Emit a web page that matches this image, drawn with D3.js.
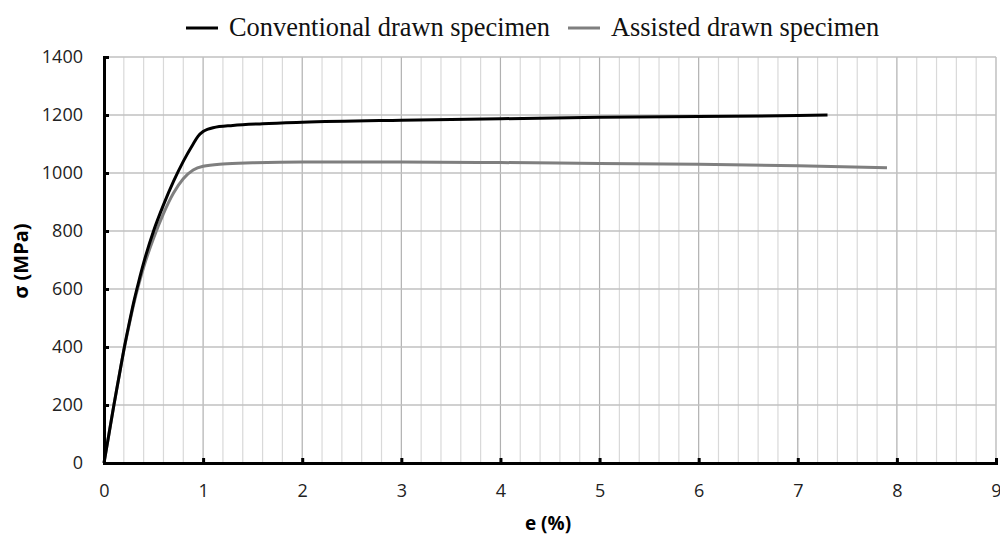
<!DOCTYPE html>
<html>
<head>
<meta charset="utf-8">
<script src="https://cdn.jsdelivr.net/npm/d3@7"></script>
<style>
body{margin:0;background:#fff;}
svg{display:block;}
</style>
</head>
<body>
<svg width="1000" height="537"></svg>
<script>
(()=>{
	//data
	let convStrain = [0, 0.05, 0.1, 0.15, 0.2, 0.25, 0.3, 0.35, 0.4, 0.5, 0.6, 0.7, 0.8, 0.9, 0.95, 1.0, 1.05, 1.1, 1.3, 1.6, 2, 3, 4, 5, 6, 7, 7.3];
	let convStress = [0, 100, 200, 295, 390, 475, 555, 625, 690, 800, 890, 970, 1040, 1100, 1127, 1143, 1151, 1156, 1164, 1170, 1175, 1182, 1187, 1192, 1195, 1198, 1200];
	let assistStrain = [0, 0.05, 0.1, 0.15, 0.2, 0.25, 0.3, 0.35, 0.4, 0.5, 0.6, 0.7, 0.8, 0.9, 1.0, 1.2, 1.5, 2, 3, 4, 5, 6, 7, 7.9];
	let assistStress = [0, 100, 200, 295, 388, 470, 548, 615, 675, 775, 860, 930, 980, 1010, 1023, 1031, 1035, 1038, 1038, 1036, 1033, 1030, 1025, 1018];
	let seriesNames = ["Conventional drawn specimen", "Assisted drawn specimen"];
	let xTicks = [0, 1, 2, 3, 4, 5, 6, 7, 8, 9];
	let yTicks = [0, 200, 400, 600, 800, 1000, 1200, 1400];

	let svg = d3.select("svg");
	let left = 104, right = 996, top = 57, bottom = 463;

	let x = d3.scaleLinear().domain([0, 9]).range([left, right]);
	let y = d3.scaleLinear().domain([0, 1400]).range([bottom, top]);

	//minor vertical grid every 0.2
	let minor = d3.range(0, 9.001, 0.2).filter(v => Math.abs(v - Math.round(v)) > 0.01);
	svg.append("g").selectAll("line").data(minor).enter()
		.append("line")
		.attr("x1", d => x(d)).attr("x2", d => x(d))
		.attr("y1", top).attr("y2", bottom)
		.style("stroke", "#d9d9d9").style("stroke-width", 1.2);

	//major grid
	svg.append("g").selectAll("line").data(xTicks.slice(1)).enter()
		.append("line")
		.attr("x1", d => x(d)).attr("x2", d => x(d))
		.attr("y1", top).attr("y2", bottom)
		.style("stroke", "#b0b0b0").style("stroke-width", 1.2);
	svg.append("g").selectAll("line").data(yTicks.slice(1)).enter()
		.append("line")
		.attr("x1", left).attr("x2", right)
		.attr("y1", d => y(d)).attr("y2", d => y(d))
		.style("stroke", "#c0c0c0").style("stroke-width", 1.5);

	//series
	let line = d3.line()
		.x(d => x(d[0]))
		.y(d => y(d[1]))
		.curve(d3.curveMonotoneX);

	let assistData = assistStrain.map((e, i) => [e, assistStress[i]]);
	let convData = convStrain.map((e, i) => [e, convStress[i]]);

	svg.append("path").datum(assistData)
		.attr("d", line)
		.style("fill", "none").style("stroke", "#7f7f7f").style("stroke-width", 3);
	svg.append("path").datum(convData)
		.attr("d", line)
		.style("fill", "none").style("stroke", "#000").style("stroke-width", 3);

	//axes
	let xAxis = d3.axisBottom(x).tickValues(xTicks).tickSize(-5).tickPadding(21).tickFormat(d3.format("d"));
	let yAxis = d3.axisLeft(y).tickValues(yTicks).tickSize(-5).tickPadding(21).tickFormat(d3.format("d"));

	let gx = svg.append("g").attr("transform", "translate(0," + bottom + ")").call(xAxis);
	let gy = svg.append("g").attr("transform", "translate(" + left + ",0)").call(yAxis);

	[gx, gy].forEach(g => {
		g.select(".domain").style("stroke", "#000").style("stroke-width", 3);
		g.selectAll(".tick line").style("stroke", "#000").style("stroke-width", 3);
		g.selectAll(".tick text")
			.style("font-family", "'Open Sans', sans-serif")
			.style("font-size", "18px")
			.style("fill", "#222");
	});

	//axis titles
	svg.append("text")
		.attr("x", 548).attr("y", 530)
		.attr("text-anchor", "middle")
		.style("font-family", "'Open Sans', sans-serif")
		.style("font-size", "19px").style("font-weight", "bold")
		.text("e (%)");
	svg.append("text")
		.attr("transform", "translate(28,261) rotate(-90)")
		.attr("text-anchor", "middle")
		.style("font-family", "'Open Sans', sans-serif")
		.style("font-size", "20px").style("font-weight", "bold")
		.text("σ (MPa)");

	//legend
	let legend = [
		{name: seriesNames[0], color: "#000", x0: 186},
		{name: seriesNames[1], color: "#7f7f7f", x0: 568}
	];
	let lg = svg.append("g").selectAll("g").data(legend).enter().append("g");
	lg.append("line")
		.attr("x1", d => d.x0).attr("x2", d => d.x0 + 32)
		.attr("y1", 28).attr("y2", 28)
		.style("stroke", d => d.color).style("stroke-width", 3);
	lg.append("text")
		.attr("x", d => d.x0 + 43).attr("y", 36)
		.style("font-family", "'Liberation Serif', 'Times New Roman', serif")
		.style("font-size", "26.4px")
		.style("fill", "#111")
		.text(d => d.name);
})();
</script>
</body>
</html>
